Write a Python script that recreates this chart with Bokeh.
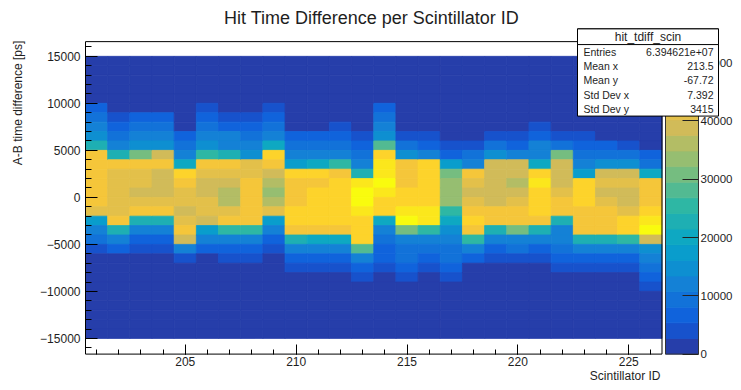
import numpy as np
from bokeh.plotting import figure
from bokeh.models import (Range1d, LinearAxis, FixedTicker, LinearColorMapper,
                          ColumnDataSource, Label, BoxAnnotation)
from bokeh.transform import transform
from bokeh.embed import file_html
from bokeh.resources import INLINE

# ---------------- data ----------------
scint_ids = list(range(201, 227))
# lower edges of the time-difference bins (ps), listed top -> bottom
tdiff_low = list(range(14000, -16000, -1000))
# bin contents (thousands of entries), top (14..15 ns) -> bottom (-15..-14 ns)
col_201 = [1,1,1,1,1, 6,9,12,16,22, 44,45,44,43,43, 44,42,18,12,9, 5,1,1,1,1, 1,1,1,1,1]
col_202 = [1,1,1,1,1, 1,5,8,10,13, 22,44,42,42,41, 42,42,43,24,12, 7,1,1,1,1, 1,1,1,1,1]
col_203 = [1,1,1,1,1, 1,6,9,11,14, 30,44,42,41,40, 41,43,22,12,8, 3,1,1,1,1, 1,1,1,1,1]
col_204 = [1,1,1,1,1, 1,6,9,11,15, 38,43,40,39,39, 41,43,22,12,8, 3,1,1,1,1, 1,1,1,1,1]
col_205 = [1,1,1,1,1, 1,1,1,7,10, 12,20,46,43,41, 41,40,42,43,38, 12,5,1,1,1, 1,1,1,1,1]
col_206 = [1,1,1,1,1, 4,7,10,12,16, 26,44,41,40,40, 41,42,40,18,11, 6,1,1,1,1, 1,1,1,1,1]
col_207 = [1,1,1,1,1, 1,5,8,11,13, 22,43,41,39,37, 36,41,43,26,12, 8,4,1,1,1, 1,1,1,1,1]
col_208 = [1,1,1,1,1, 1,3,8,10,12, 16,41,42,43,44, 43,44,45,25,12, 8,4,1,1,1, 1,1,1,1,1]
col_209 = [1,1,1,1,1, 5,8,10,13,20, 46,45,40,36,34, 36,42,18,11,8, 4,1,1,1,1, 1,1,1,1,1]
col_210 = [1,1,1,1,1, 1,1,1,6,9, 11,18,46,45,43, 44,46,46,45,22, 11,7,3,1,1, 1,1,1,1,1]
col_211 = [1,1,1,1,1, 1,1,1,6,9, 11,20,46,45,46, 47,46,47,45,20, 11,7,3,1,1, 1,1,1,1,1]
col_212 = [1,1,1,1,1, 1,1,4,7,10, 12,25,45,46,47, 46,47,46,44,20, 11,8,4,1,1, 1,1,1,1,1]
col_213 = [1,1,1,1,1, 1,1,1,5,8, 10,12,22,50,52, 52,50,48,48,46, 28,11,8,4,1, 1,1,1,1,1]
col_214 = [1,1,1,1,1, 6,9,11,14,28, 47,49,50,51,50, 48,46,20,12,10, 8,6,3,1,1, 1,1,1,1,1]
col_215 = [1,1,1,1,1, 1,1,1,5,9, 15,44,45,45,46, 47,50,52,30,12, 10,9,7,4,1, 1,1,1,1,1]
col_216 = [1,1,1,1,1, 1,1,1,5,8, 12,46,46,46,47, 48,50,49,25,11, 9,7,3,1,1, 1,1,1,1,1]
col_217 = [1,1,1,1,1, 1,1,1,1,4, 8,18,30,33,34, 33,26,20,14,12, 10,9,7,4,1, 1,1,1,1,1]
col_218 = [1,1,1,1,1, 1,1,1,1,5, 9,12,44,42,40, 41,44,47,45,25, 11,6,1,1,1, 1,1,1,1,1]
col_219 = [1,1,1,1,1, 1,1,1,5,9, 14,40,39,38,38, 40,43,44,22,12, 8,4,1,1,1, 1,1,1,1,1]
col_220 = [1,1,1,1,1, 1,1,1,5,8, 12,38,38,37,39, 41,43,43,30,12, 9,5,1,1,1, 1,1,1,1,1]
col_221 = [1,1,1,1,1, 1,1,5,8,11, 13,20,46,49,48, 47,46,45,22,12, 8,4,1,1,1, 1,1,1,1,1]
col_222 = [1,1,1,1,1, 1,1,1,5,9, 30,39,38,39,41, 43,44,22,13,11, 9,7,3,1,1, 1,1,1,1,1]
col_223 = [1,1,1,1,1, 1,1,1,4,7, 10,12,18,48,47, 46,45,44,43,22, 11,8,4,1,1, 1,1,1,1,1]
col_224 = [1,1,1,1,1, 1,1,1,1,6, 10,14,40,41,40, 41,43,45,43,22, 11,8,4,1,1, 1,1,1,1,1]
col_225 = [1,1,1,1,1, 1,1,1,1,5, 9,14,40,41,40, 40,42,46,48,25, 12,8,5,1,1, 1,1,1,1,1]
col_226 = [1,1,1,1,1, 1,1,1,1,1, 6,10,20,44,43, 44,46,50,51,40, 14,11,9,7,4, 1,1,1,1,1]
columns = [col_201, col_202, col_203, col_204, col_205, col_206, col_207, col_208,
           col_209, col_210, col_211, col_212, col_213, col_214, col_215, col_216,
           col_217, col_218, col_219, col_220, col_221, col_222, col_223, col_224,
           col_225, col_226]

x_ticks = [205, 210, 215, 220, 225]
y_ticks = [-15000, -10000, -5000, 0, 5000, 10000, 15000]
z_ticks = [0, 10000, 20000, 30000, 40000, 50000]
z_max = 53600
n_levels = 20

title_text = "Hit Time Difference per Scintillator ID"
x_title = "Scintillator ID"
y_title = "A-B time difference [ps]"
stats_name = "hit_tdiff_scin"
stats_labels = ["Entries", "Mean x", "Mean y", "Std Dev x", "Std Dev y"]
stats_values = ["6.394621e+07", "213.5", "-67.72", "7.392", "3415"]

# ---------------- palette (ROOT kBird, 20 contours) ----------------
stops = [0.0, 0.125, 0.25, 0.375, 0.5, 0.625, 0.75, 0.875, 1.0]
red = [0.2082, 0.0592, 0.0780, 0.0232, 0.1802, 0.5301, 0.8186, 0.9956, 0.9764]
green = [0.1664, 0.3599, 0.5041, 0.6419, 0.7178, 0.7492, 0.7328, 0.7862, 0.9832]
blue = [0.5293, 0.8684, 0.8385, 0.7914, 0.6425, 0.4662, 0.3499, 0.1968, 0.0539]
palette = []
for i in range(n_levels):
    f = (i + 1) / n_levels
    r, g, b = (int(round(255 * np.interp(f, stops, c))) for c in (red, green, blue))
    palette.append("#%02x%02x%02x" % (r, g, b))

# ---------------- geometry (pixels) ----------------
W, H = 733, 382
SY = H / 390.0               # vertical squeeze of the 390px-high layout
def cy(v): return v * SY

fx0, fx1 = 85.0, 661.5                      # histogram frame, horizontal
fy0, fy1 = cy(42.0), cy(361.0)              # histogram frame, vertical
x_lo, x_hi = 200.5, 226.5
ppx = (fx1 - fx0) / (x_hi - x_lo)
x_start, x_end = x_lo - fx0 / ppx, x_hi + (W - fx1) / ppx
ppy = 9.6 / 1000.0 * SY      # px per ps
y0_px = cy(201.0)            # pixel row of 0 ps
y_start, y_end = (y0_px - H) / ppy, y0_px / ppy
frame_ylo, frame_yhi = (y0_px - fy1) / ppy, (y0_px - fy0) / ppy
cbx0, cbx1 = 665.0, 698.0    # colour bar
zppy = (fy1 - fy0) / z_max
cbx_range = Range1d(-cbx0 / (cbx1 - cbx0), (W - cbx0) / (cbx1 - cbx0))
cb_range = Range1d(-(H - fy1) / zppy, fy1 / zppy)

FONT = "Liberation Sans"
TXT = "#1e1e1e"

p = figure(width=W, height=H, x_range=Range1d(x_start, x_end), y_range=Range1d(y_start, y_end),
           x_axis_type=None, y_axis_type=None, output_backend="svg", toolbar_location=None,
           title=None, min_border=0, min_border_left=0, min_border_right=0,
           min_border_top=0, min_border_bottom=0,
           outline_line_color=None, background_fill_color="white", border_fill_color="white")
p.extra_x_ranges = {"cbx": cbx_range}
p.extra_y_ranges = {"cb": cb_range}

# heatmap
xs, ys, zs = [], [], []
for sid, col in zip(scint_ids, columns):
    for low, val in zip(tdiff_low, col):
        xs.append(sid)
        ys.append(low + 500)
        zs.append(val * 1000.0)
src = ColumnDataSource(dict(x=xs, y=ys, z=zs))
mapper = LinearColorMapper(palette=palette, low=0, high=z_max)
p.rect(x="x", y="y", width=1, height=1000, source=src,
       fill_color=transform("z", mapper), line_color=transform("z", mapper), line_width=0.8)

# frame border of the histogram area
p.quad(left=[x_lo], right=[x_hi], bottom=[frame_ylo], top=[frame_yhi],
       fill_color=None, line_color="black", line_width=1)

# palette (colour bar)
edges = np.linspace(0, z_max, n_levels + 1)
p.quad(left=0, right=1, bottom=edges[:-1], top=edges[1:], fill_color=palette,
       line_color=palette, line_width=0.8, x_range_name="cbx", y_range_name="cb")
p.quad(left=[0], right=[1], bottom=[0], top=[z_max], fill_color=None,
       line_color="#333333", line_width=1, x_range_name="cbx", y_range_name="cb")

# axes (fixed at the frame edges)
yaxis = LinearAxis(fixed_location=x_lo,
                   ticker=FixedTicker(ticks=y_ticks, minor_ticks=list(range(-16000, 17000, 1000))),
                   major_tick_in=12, major_tick_out=0, minor_tick_in=6, minor_tick_out=0,
                   axis_line_color=None, major_tick_line_color="black",
                   minor_tick_line_color="black", major_label_standoff=5,
                   major_label_text_font=FONT, major_label_text_font_size="12px",
                   major_label_text_color=TXT)
p.add_layout(yaxis, "left")
xaxis = LinearAxis(fixed_location=frame_ylo,
                   ticker=FixedTicker(ticks=x_ticks, minor_ticks=scint_ids),
                   major_tick_in=10, major_tick_out=0, minor_tick_in=5, minor_tick_out=0,
                   axis_line_color=None, major_tick_line_color="black",
                   minor_tick_line_color="black", major_label_standoff=3,
                   major_label_text_font=FONT, major_label_text_font_size="12px",
                   major_label_text_color=TXT)
p.add_layout(xaxis, "below")
zaxis = LinearAxis(fixed_location=1, x_range_name="cbx", y_range_name="cb",
                   ticker=FixedTicker(ticks=z_ticks, minor_ticks=[]),
                   major_tick_in=16, major_tick_out=0, minor_tick_in=0, minor_tick_out=0,
                   axis_line_color=None, major_tick_line_color="#222222",
                   major_label_standoff=2, major_label_text_font=FONT,
                   major_label_text_font_size="11.5px", major_label_text_color=TXT)
p.add_layout(zaxis, "right")

# titles
p.add_layout(Label(x=371, y=cy(18), x_units="canvas", y_units="canvas", text=title_text,
                   text_align="center", text_baseline="middle", text_font=FONT,
                   text_font_size="18px", text_color=TXT))
p.add_layout(Label(x=660, y=cy(383), x_units="canvas", y_units="canvas", text=x_title,
                   text_align="right", text_baseline="middle", text_font=FONT,
                   text_font_size="12px", text_color=TXT))
p.add_layout(Label(x=17, y=cy(41), x_units="canvas", y_units="canvas", text=y_title,
                   angle=np.pi / 2, text_align="right", text_baseline="middle", text_font=FONT,
                   text_font_size="12px", text_color=TXT))

# statistics box
bx0, bx1 = 577, 718
by0, by_sep, by1 = cy(29), cy(45), cy(118)
box_kw = dict(left_units="canvas", right_units="canvas", top_units="canvas",
              bottom_units="canvas", fill_color="white", fill_alpha=1, line_color="black",
              line_width=1, line_alpha=1, level="overlay")
p.add_layout(BoxAnnotation(left=bx0, right=bx1, top=by0, bottom=by1, **box_kw))
p.add_layout(BoxAnnotation(left=bx0, right=bx1, top=by0, bottom=by_sep, **box_kw))
p.add_layout(Label(x=(bx0 + bx1) / 2, y=(by0 + by_sep) / 2, x_units="canvas", y_units="canvas",
                   text=stats_name, text_align="center", text_baseline="middle",
                   text_font=FONT, text_font_size="12px", text_color=TXT, level="overlay"))
row_h = (by1 - by_sep) / len(stats_labels)
for i, (lab, val) in enumerate(zip(stats_labels, stats_values)):
    yy = by_sep + row_h * (i + 0.5)
    p.add_layout(Label(x=583, y=yy, x_units="canvas", y_units="canvas", text=lab,
                       text_align="left", text_baseline="middle", text_font=FONT,
                       text_font_size="10.5px", text_color=TXT, level="overlay"))
    p.add_layout(Label(x=713, y=yy, x_units="canvas", y_units="canvas", text=val,
                       text_align="right", text_baseline="middle", text_font=FONT,
                       text_font_size="10.5px", text_color=TXT, level="overlay"))

open("out.html", "w").write(file_html(p, INLINE))
